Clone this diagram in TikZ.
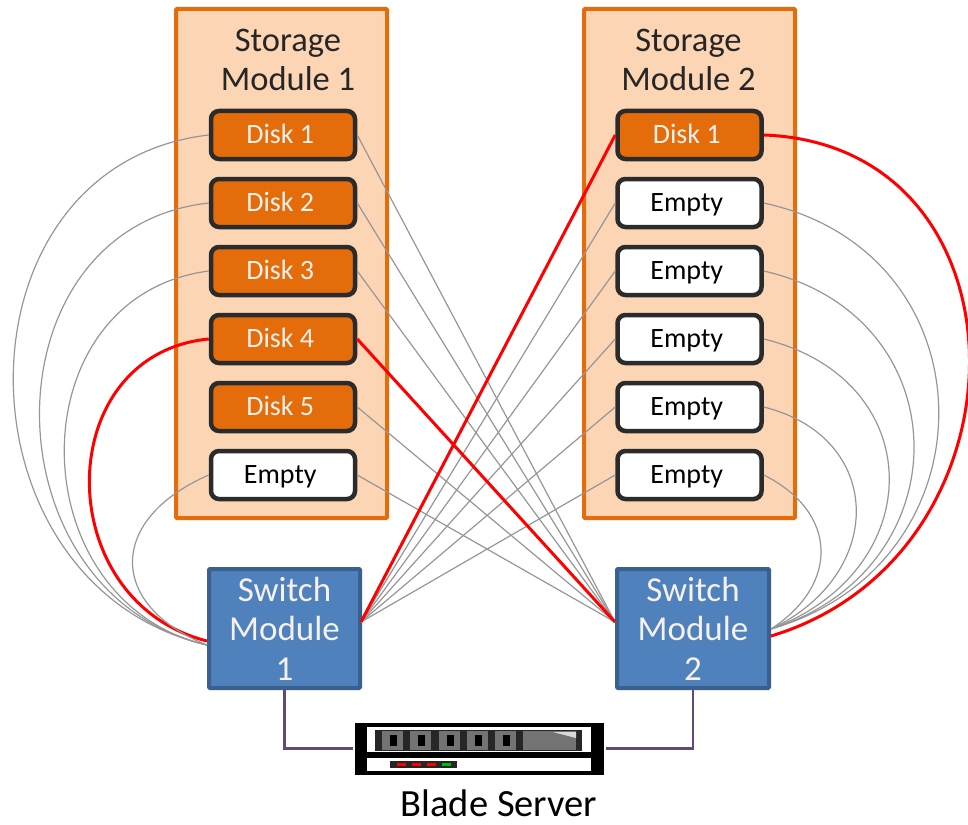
\documentclass[tikz,border=0pt]{standalone}
\usepackage{fontspec}
\setmainfont{Carlito}
\usetikzlibrary{positioning}

\definecolor{panelfill}{HTML}{FCD5B5}
\definecolor{paneledge}{HTML}{E46C0A}
\definecolor{diskedge}{HTML}{2B2B2B}
\definecolor{switchfill}{HTML}{4F81BD}
\definecolor{switchedge}{HTML}{3A6090}
\definecolor{uplink}{HTML}{604A7B}
\definecolor{wiregrey}{HTML}{969696}
\definecolor{softwhite}{HTML}{F6F1EC}

\begin{document}
\begin{tikzpicture}[%
    x=1pt, y=-1pt,
    panel/.style={
        draw=paneledge,
        fill=panelfill,
        line width=4pt,
        rounded corners=1pt,
        minimum width=211,
        minimum height=509
        },
    paneltitle/.style={
        align=center,
        text=black!85,
        font=\fontsize{34.5}{39}\selectfont
        },
    diskbox/.style={
        draw=diskedge,
        rounded corners=8pt,
        line width=4.5pt,
        minimum width=144,
        minimum height=48,
        inner sep=0pt,
        text height=20pt,
        text depth=4pt,
        execute at end node={\hspace{5.5pt}},
        font=\fontsize{28}{32}\selectfont
        },
    diskfull/.style={diskbox, fill=paneledge, text=softwhite},
    diskfree/.style={diskbox, fill=white, text=black},
    switchbox/.style={
        draw=switchedge,
        fill=switchfill,
        text=softwhite,
        rounded corners=1pt,
        line width=4pt,
        minimum height=119,
        align=center,
        inner sep=0pt,
        font=\fontsize{35}{39.5}\selectfont
        },
    wire/.style={wiregrey, line width=1.2pt},
    livewire/.style={red, line width=3pt},
    linkwire/.style={uplink, line width=2.5pt},
]

\useasboundingbox (0,0) rectangle (968,824);

\node[panel] (store1) at (281.5,263.5) {};
\node[panel] (store2) at (689.5,263.5) {};
\node[paneltitle] (title1) at (288,60) {Storage\\Module 1};
\node[paneltitle] (title2) at (688.5,60) {Storage\\Module 2};

% first shelf, then second shelf
\foreach \i/\y/\kind/\txt in {1/135/diskfull/Disk 1, 2/203/diskfull/Disk 2, 3/271/diskfull/Disk 3,
        4/339/diskfull/Disk 4, 5/407/diskfull/Disk 5, 6/475/diskfree/Empty}
    \node[\kind] (a\i) at (283,\y) {\txt};
\foreach \i/\y/\kind/\txt in {1/135/diskfull/Disk 1, 2/203/diskfree/Empty, 3/271/diskfree/Empty,
        4/339/diskfree/Empty, 5/407/diskfree/Empty, 6/475/diskfree/Empty}
    \node[\kind] (b\i) at (689.5,\y) {\txt};

\node[switchbox, minimum width=151] (sw1) at (284.5,628.5) {Switch\\Module\\1};
\node[switchbox, minimum width=152] (sw2) at (693,628.5) {Switch\\Module\\2};

\coordinate (fan1w) at (207,645);
\coordinate (fan1r) at (207,641);
\coordinate (fan1e) at (361,622);
\coordinate (fan2w) at (615,622);
\coordinate (fan2e) at (771,629);
\coordinate (fan2r) at (771,636);

% loops on the outer sides
\draw[livewire] (a4.west) .. controls +(-158,15) and +(-158,-40) .. (fan1r);
\draw[livewire] (b1.east) .. controls +(273,10) and +(266,-80) .. (fan2r);
\foreach \n/\ax/\ay/\bx/\by in {a1/-261/30/-258/-60, a2/-226/25/-223/-52, a3/-193/25/-190/-44, a6/-101/44/-100/-40}
    \draw[wire] (\n.west) .. controls +(\ax,\ay) and +(\bx,\by) .. (fan1w);
\foreach \n/\ax/\ay/\bx/\by in {b2/231/50/226/-65, b3/198/45/193/-60, b4/165/40/160/-60, b5/121/30/116/-55, b6/74/37/69/-45}
    \draw[wire] (\n.east) .. controls +(\ax,\ay) and +(\bx,\by) .. (fan2e);

% straight runs through the middle
\foreach \i in {1,2,3,5,6}
    \draw[wire] (a\i.east) -- (fan2w);
\foreach \i in {2,...,6}
    \draw[wire] (b\i.west) -- (fan1e);
\draw[livewire] (a4.east) -- (fan2w);
\draw[livewire] (b1.west) -- (fan1e);

% server front
\node[draw=black, fill=black, minimum width=248, minimum height=51, inner sep=0pt] (server) at (479,748.5) {};
\node[below=15pt of server, xshift=20pt, inner sep=0pt] (serverlabel) {\fontsize{38.5}{44}\selectfont Blade Server};
\fill[white] (367,727) rectangle (591,752);
\fill[white] (367,758) rectangle (591,771);
\fill[black!85] (375,730) rectangle (582,751);
\fill[black!55] (523,731) rectangle (576,750);
\fill[white!85!black] (553,732) -- (576,732) -- (576,738) -- cycle;
\foreach \i in {0,...,4} {
    \fill[black!55] (382+28.3*\i,731) rectangle (403+28.3*\i,750);
    \fill[black] (390+28.3*\i,735) rectangle (397+28.3*\i,746);
}
\fill[black!85] (390,761) rectangle (457,768);
\foreach \x in {397,412,427}
    \fill[red] (\x,763) rectangle (\x+9,766);
\fill[green!75!black] (442,763) rectangle (451,766);

\draw[linkwire] (sw1.south) |- ([xshift=-2pt]server.west);
\draw[linkwire] (sw2.south) |- ([xshift=3pt]server.east);
\end{tikzpicture}
\end{document}
